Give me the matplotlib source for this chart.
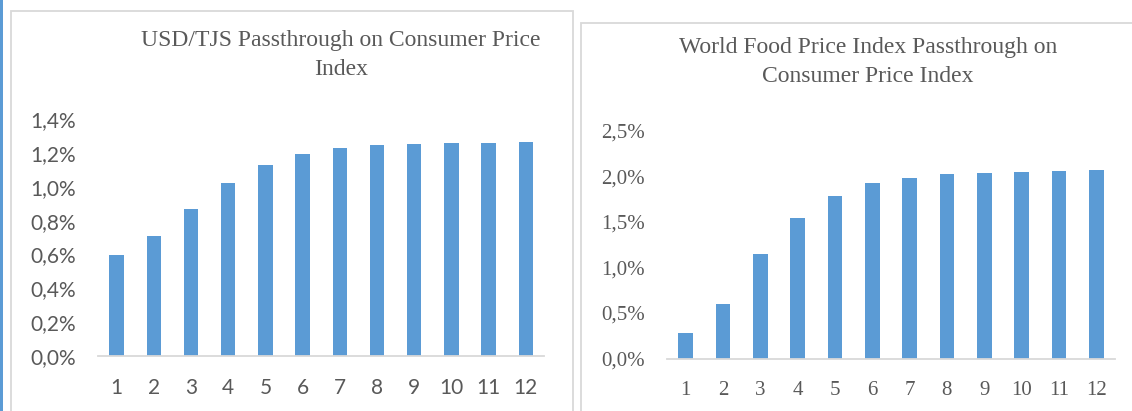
import matplotlib
matplotlib.use("Agg")
import matplotlib.pyplot as plt
from matplotlib.patches import Rectangle

# Datos
horizontes = [str(i) for i in range(1, 13)]
usd_tjs = [0.60, 0.71, 0.872, 1.022, 1.128, 1.195, 1.230, 1.248, 1.254, 1.258, 1.262, 1.264]
food_idx = [0.278, 0.600, 1.143, 1.545, 1.784, 1.923, 1.985, 2.022, 2.036, 2.047, 2.062, 2.066]

TITULO_IZQ = "USD/TJS Passthrough on Consumer Price\nIndex"
TITULO_DER = "World Food Price Index Passthrough on\nConsumer Price Index"

AZUL = "#5B9BD5"
GRIS_TXT = "#595959"
GRIS_LINEA = "#D9D9D9"

W, H = 1132, 411
fig = plt.figure(figsize=(W / 100, H / 100), dpi=100)


def px(x0, y0, x1, y1):
    """Caja en pixeles (origen arriba-izquierda) -> [left, bottom, width, height]."""
    return [x0 / W, 1 - y1 / H, (x1 - x0) / W, (y1 - y0) / H]


# marcos de los paneles
fig.patches.append(Rectangle((0, 0), 2.5 / W, 1, transform=fig.transFigure,
                             facecolor=AZUL, edgecolor="none"))
for x0, y0, x1, y1 in [(10.5, 11, 573.5, 420), (580.7, 23.3, 1140, 420)]:
    fig.patches.append(Rectangle((x0 / W, 1 - y1 / H), (x1 - x0) / W, (y1 - y0) / H,
                                 transform=fig.transFigure, facecolor="none",
                                 edgecolor=GRIS_LINEA, linewidth=1.3))


def panel(rect, valores, ymax, paso, fmt, fam_ticks, titulo, titulo_xy):
    ax = fig.add_axes(rect)
    x = range(len(valores))
    ax.bar(x, valores, width=0.39, color=AZUL)
    ax.set_xlim(-0.5, len(valores) - 0.5)
    ax.set_ylim(0, ymax)
    ticks = [i * paso for i in range(int(round(ymax / paso)) + 1)]
    ax.set_yticks(ticks)
    ax.set_yticklabels([fmt(t) for t in ticks])
    ax.set_xticks(list(x))
    ax.set_xticklabels(horizontes)
    for s in ["top", "right", "left"]:
        ax.spines[s].set_visible(False)
    ax.spines["bottom"].set_color(GRIS_LINEA)
    ax.spines["bottom"].set_linewidth(1.3)
    ax.tick_params(axis="both", length=0, colors=GRIS_TXT, labelsize=15)
    ax.tick_params(axis="y", pad=16)
    ax.tick_params(axis="x", pad=16)
    for lbl in ax.get_xticklabels() + ax.get_yticklabels():
        lbl.set_family(fam_ticks)
    fig.text(titulo_xy[0] / W, 1 - titulo_xy[1] / H, titulo, ha="center", va="center",
             family="Liberation Serif", fontsize=17, color=GRIS_TXT, linespacing=1.45)
    return ax


panel(px(98, 119.3, 544.4, 356), usd_tjs, 1.4, 0.2,
      lambda t: f"{t:.1f}%".replace(".", ","), "Lato", TITULO_IZQ, (341, 55))
panel(px(667, 130.7, 1114.9, 358.5), food_idx, 2.5, 0.5,
      lambda t: f"{t:.1f}%".replace(".", ","), "Liberation Serif", TITULO_DER, (868, 62))

fig.savefig("out.png", dpi=100)
